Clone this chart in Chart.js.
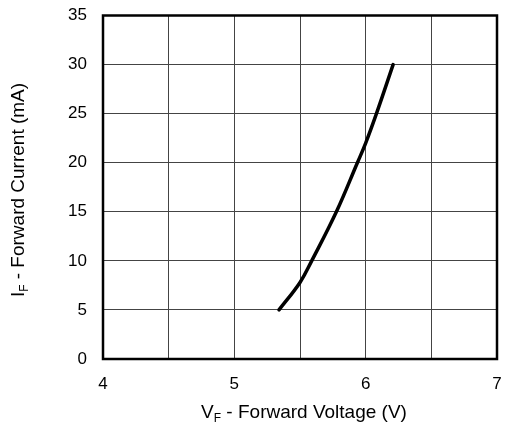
<!DOCTYPE html>
<html>
<head>
<meta charset="utf-8">
<script src="https://cdn.jsdelivr.net/npm/chart.js@4/dist/chart.umd.min.js"></script>
<style>
  html, body { margin: 0; padding: 0; background: #fff; }
  #wrap { width: 512px; height: 425px; }
</style>
</head>
<body>
<div id="wrap"><canvas id="chart" width="512" height="425"></canvas></div>
<script>
const voltage = [5.34, 5.5, 5.589, 5.777, 5.937, 6.0, 6.082, 6.209];
const current = [5, 7.8, 10, 15, 20, 22, 25, 30];
const xTicks = [4, 5, 6, 7];
const xGrid = [4, 4.5, 5, 5.5, 6, 6.5, 7];
const yTicks = [0, 5, 10, 15, 20, 25, 30, 35];

const FONT = "Liberation Sans, Arial, sans-serif";
const TITLE_SIZE = 19;
const SUB_SIZE = 12;

// box around the plot + axis titles with subscript F
const frameAndTitles = {
  id: "frameAndTitles",
  afterDraw(chart) {
    const { ctx, chartArea: a } = chart;
    ctx.save();
    ctx.strokeStyle = "#000";
    ctx.lineWidth = 2.5;
    ctx.strokeRect(a.left, a.top, a.right - a.left, a.bottom - a.top);

    const sub = (main, s, rest, x, y) => {
      ctx.font = `${TITLE_SIZE}px ${FONT}`;
      const w1 = ctx.measureText(main).width;
      const w3 = ctx.measureText(rest).width;
      ctx.font = `${SUB_SIZE}px ${FONT}`;
      const w2 = ctx.measureText(s).width;
      const sx = x - (w1 + w2 + w3) / 2;
      ctx.fillStyle = "#000";
      ctx.textBaseline = "alphabetic";
      ctx.textAlign = "left";
      ctx.font = `${TITLE_SIZE}px ${FONT}`;
      ctx.fillText(main, sx, y);
      ctx.fillText(rest, sx + w1 + w2, y);
      ctx.font = `${SUB_SIZE}px ${FONT}`;
      ctx.fillText(s, sx + w1, y + 4);
    };

    sub("V", "F", " - Forward Voltage (V)", (a.left + a.right) / 2 + 4, 418);

    ctx.translate(24, 190);
    ctx.rotate(-Math.PI / 2);
    sub("I", "F", " - Forward Current (mA)", 0, 0);
    ctx.restore();
  }
};

new Chart(document.getElementById("chart"), {
  type: "scatter",
  data: {
    datasets: [{
      data: voltage.map((v, i) => ({ x: v, y: current[i] })),
      showLine: true,
      borderColor: "#000",
      borderWidth: 3.5,
      pointRadius: 0,
      tension: 0.4,
      borderCapStyle: "round",
    }],
  },
  options: {
    responsive: false,
    animation: false,
    layout: { padding: { top: 15.5, right: 15, left: 0, bottom: 0 } },
    plugins: { legend: { display: false }, tooltip: { enabled: false } },
    scales: {
      x: {
        type: "linear",
        min: 4,
        max: 7,
        afterFit: (s) => {
          s.height = 66;
          s.paddingLeft = 0;
          s.paddingRight = 0;
        },
        afterBuildTicks: (s) => {
          s.ticks = xGrid.map((v) => ({ value: v }));
        },
        grid: { color: "#444", lineWidth: 1, drawTicks: false },
        border: { display: false },
        ticks: {
          color: "#000",
          font: { size: 17, family: FONT },
          padding: 15,
          maxRotation: 0,
          autoSkip: false,
          callback: (v) => (xTicks.includes(v) ? String(v) : ""),
        },
      },
      y: {
        type: "linear",
        min: 0,
        max: 35,
        afterFit: (s) => {
          s.width = 103;
          s.paddingTop = 0;
          s.paddingBottom = 0;
        },
        afterBuildTicks: (s) => {
          s.ticks = yTicks.map((v) => ({ value: v }));
        },
        grid: { color: "#444", lineWidth: 1, drawTicks: false },
        border: { display: false },
        ticks: {
          color: "#000",
          font: { size: 17, family: FONT },
          padding: 16,
          callback: (v) => String(v),
        },
      },
    },
  },
  plugins: [frameAndTitles],
});
</script>
</body>
</html>
